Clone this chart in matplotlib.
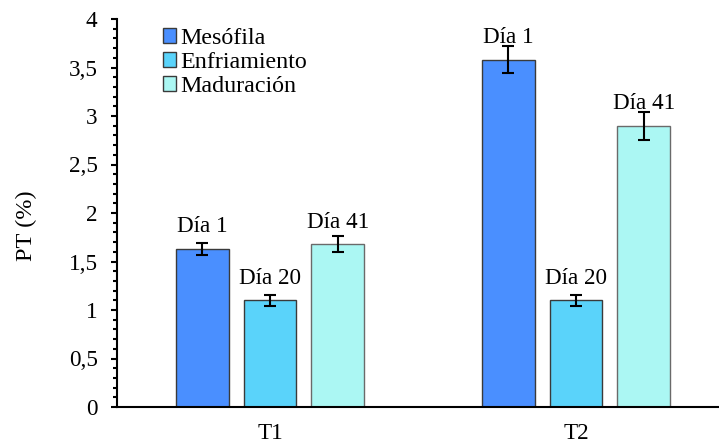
import matplotlib
matplotlib.use("Agg")
import matplotlib.pyplot as plt
from matplotlib.ticker import MultipleLocator, FuncFormatter
import numpy as np

plt.rcParams['font.family'] = ['Liberation Serif', 'DejaVu Serif']

# Data
tratamientos = ["T1", "T2"]
fases = ["Mesófila", "Enfriamiento", "Maduración"]
etiquetas = ["Día 1", "Día 20", "Día 41"]
pt_mesofila = [1.63, 3.58]
pt_enfriamiento = [1.10, 1.10]
pt_maduracion = [1.68, 2.90]
err_mesofila = [0.065, 0.14]
err_enfriamiento = [0.055, 0.057]
err_maduracion = [0.085, 0.145]

valores = [pt_mesofila, pt_enfriamiento, pt_maduracion]
errores = [err_mesofila, err_enfriamiento, err_maduracion]
colores = ["#4A8FFF", "#5AD3FA", "#ABF7F3"]
bordes = ["#3A3A3A", "#3A3A3A", "#6A6A6A"]

FS = 16.7

fig = plt.figure(figsize=(7.19, 4.45), dpi=100)
ax = fig.add_axes([117 / 719, 38 / 445, 612 / 719, 388 / 445])

x = np.arange(len(tratamientos))
ancho = 0.173
paso = 0.222

for i, (vals, errs, c, ec, lab, et) in enumerate(zip(valores, errores, colores, bordes, fases, etiquetas)):
    pos = x + (i - 1) * paso
    ax.bar(pos, vals, width=ancho, color=c, edgecolor=ec, linewidth=1.0, label=lab, zorder=2)
    ax.errorbar(pos, vals, yerr=errs, fmt='none', ecolor='black', elinewidth=1.5,
                capsize=4.3, capthick=1.5, zorder=3)
    for px, v in zip(pos, vals):
        ax.annotate(et, xy=(px, v), xytext=(0, 11.9), textcoords='offset points',
                    ha='center', va='baseline', fontsize=FS)

ax.set_xlim(-0.5, 1.5)
ax.set_ylim(0, 4)
ax.set_xticks(x)
ax.set_xticklabels(tratamientos, fontsize=FS)
ax.yaxis.set_major_locator(MultipleLocator(0.5))
ax.yaxis.set_minor_locator(MultipleLocator(0.1))
ax.yaxis.set_major_formatter(FuncFormatter(lambda v, p: f"{v:g}".replace('.', ',')))
ax.tick_params(axis='y', which='major', length=4.5, width=1.5, labelsize=FS, pad=9.5, direction='out')
ax.tick_params(axis='y', which='minor', length=3, width=1.5, direction='out')
ax.tick_params(axis='x', length=0, pad=11.5)

for s in ['top', 'right']:
    ax.spines[s].set_visible(False)
for s in ['left', 'bottom']:
    ax.spines[s].set_linewidth(1.5)
    ax.spines[s].set_zorder(4)

fig.text(26 / 719, 1 - 226 / 445, "PT (%)", rotation=90, ha='center', va='center', fontsize=17.5)

leg = ax.legend(loc='upper left', bbox_to_anchor=(46 / 612, 1 - 9 / 388), frameon=False,
                fontsize=17.3, handlelength=0.55, handleheight=0.55, handletextpad=0.15,
                labelspacing=0.12, borderaxespad=0, borderpad=0)
for h in leg.legend_handles:
    h.set_edgecolor('#3A3A3A')

fig.savefig("out.png", dpi=100)
